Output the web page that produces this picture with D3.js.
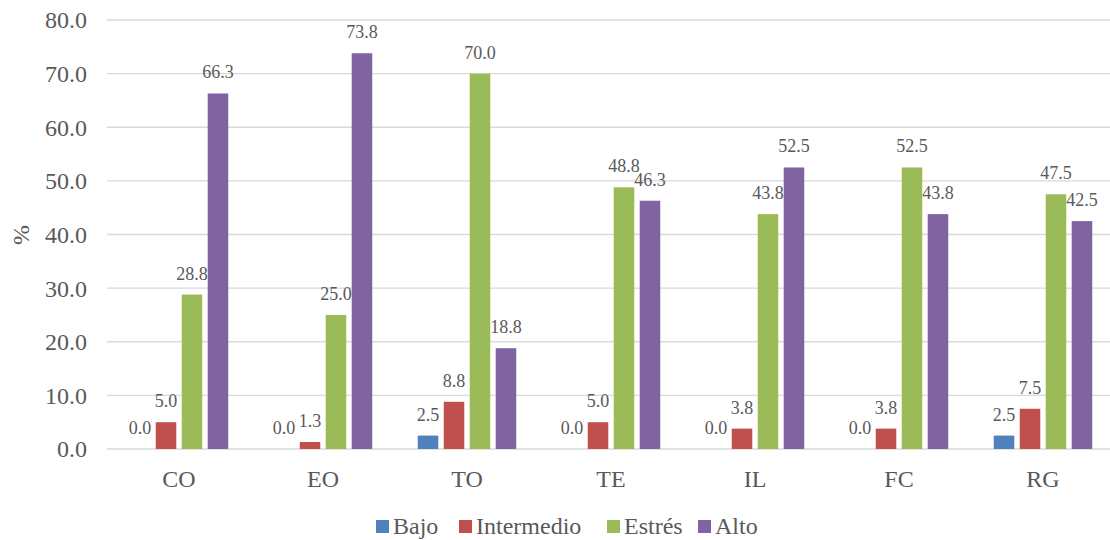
<!DOCTYPE html>
<html><head><meta charset="utf-8">
<script src="https://cdn.jsdelivr.net/npm/d3@7"></script>
<style>body{margin:0;background:#fff;} svg text{fill:#595959;}</style>
</head><body>
<svg id="chart" width="1110" height="540"></svg>
<script>
const categories = ["CO","EO","TO","TE","IL","FC","RG"];
const seriesNames = ["Bajo","Intermedio","Estrés","Alto"];
const bajo = [0.0,0.0,2.5,0.0,0.0,0.0,2.5];
const intermedio = [5.0,1.3,8.8,5.0,3.8,3.8,7.5];
const estres = [28.8,25.0,70.0,48.8,43.8,52.5,47.5];
const alto = [66.3,73.8,18.8,46.3,52.5,43.8,42.5];
const yTicks = [0,10,20,30,40,50,60,70,80];
const colors = ["#4F81BD","#C0504D","#9BBB59","#8064A2"];
const seriesValues = [bajo, intermedio, estres, alto];

(function(){
const svg = d3.select("#chart");
const FONT = "Liberation Serif, Tinos, Times New Roman, Times, DejaVu Serif, Noto Serif, serif";
svg.attr("font-family", FONT);
const mLeft = 107, mRight = 1115, mTop = 20, mBottom = 449;
const x0 = d3.scaleBand().domain(categories).range([mLeft, mRight]).padding(0);
const groupW = 98.5;
const x1 = d3.scaleBand().domain(seriesNames).range([0, groupW]).paddingInner(0.21).paddingOuter(0);
const y = d3.scaleLinear().domain([0,80]).range([mBottom, mTop]);

// gridlines
svg.append("g").selectAll("line").data(yTicks).join("line")
  .attr("x1", mLeft).attr("x2", 1110)
  .attr("y1", d=>y(d)).attr("y2", d=>y(d))
  .attr("stroke", "#d9d9d9").attr("stroke-width", 1.3);

// y tick labels
svg.append("g").selectAll("text").data(yTicks).join("text")
  .attr("x", 87).attr("y", d=>y(d)).attr("dy","0.35em")
  .attr("text-anchor","end").attr("font-size",24)
  .text(d=>d.toFixed(1));

// y title
svg.append("text").attr("transform","translate(29,235) rotate(-90)")
  .attr("text-anchor","middle").attr("font-size",24).text("%");

// bars
const data = [];
categories.forEach((c,i)=>{
  seriesNames.forEach((s,j)=>{
    data.push({c, s, j, v: seriesValues[j][i]});
  });
});
const gx = c => x0(c) + x0.bandwidth()/2 - groupW/2;
svg.append("g").selectAll("rect").data(data).join("rect")
  .attr("x", d=>gx(d.c)+x1(d.s))
  .attr("width", x1.bandwidth())
  .attr("y", d=>y(d.v))
  .attr("height", d=>y(0)-y(d.v))
  .attr("fill", d=>colors[d.j]);

// data labels
svg.append("g").selectAll("text").data(data).join("text")
  .attr("x", d=>gx(d.c)+x1(d.s)+x1.bandwidth()/2)
  .attr("y", d=>y(d.v)-15)
  .attr("text-anchor","middle").attr("font-size",18)
  .text(d=>d.v.toFixed(1));

// x labels
svg.append("g").selectAll("text").data(categories).join("text")
  .attr("x", d=>x0(d)+x0.bandwidth()/2).attr("y", 487)
  .attr("text-anchor","middle").attr("font-size",24)
  .text(d=>d);

// legend
const legendX = [376, 459, 607, 698];
const lg = svg.append("g").selectAll("g").data(seriesNames).join("g")
  .attr("transform",(d,i)=>`translate(${legendX[i]},0)`);
lg.append("rect").attr("x",0).attr("y",520).attr("width",13).attr("height",13)
  .attr("fill",(d,i)=>colors[i]);
lg.append("text").attr("x",17).attr("y",534).attr("font-size",24).text(d=>d);
})();
</script>
</body></html>
